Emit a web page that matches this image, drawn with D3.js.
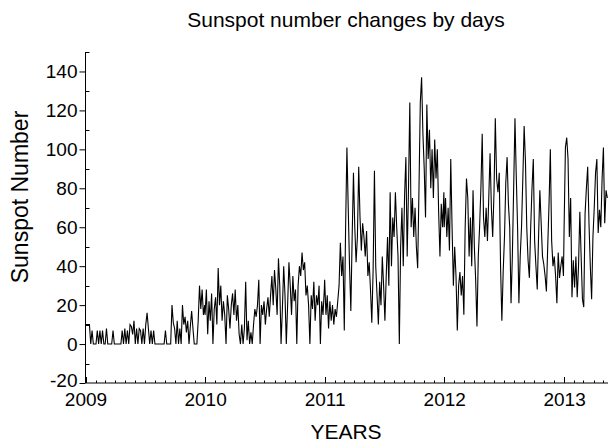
<!DOCTYPE html>
<html><head><meta charset="utf-8">
<script src="https://cdn.jsdelivr.net/npm/d3@7"></script>
<style>
html,body{margin:0;padding:0;background:#fff;}
text{font-family:"Liberation Sans",Arial,sans-serif;fill:#000;}
</style></head>
<body><svg id="c" width="608" height="446"></svg>
<script>
// Daily sunspot numbers, sampled every 4 days from 1 January of each year
const stepDays = 4;
const values2009 = [10,10,10,10,0,7,0,0,0,7,0,7,0,7,0,0,8,0,0,0,0,7,0,0,0,0,0,0,7,0,8,0,7,0,10,9,5,12,0,8,0,8,7,0,8,0,10,16,8,0,7,0,7,0,0,0,0,0,0,0,0,7,0,0,0,0,20,11,8,0,12,0,8,0,20,10,14,6,12,0,9,17,8,0,0,0,12,30,18,28,15,20];
const values2010 = [15,28,5,22,12,26,0,18,24,10,39,20,30,12,22,15,0,25,18,8,20,26,15,28,12,20,5,0,10,0,8,32,2,12,0,6,0,10,18,14,20,33,0,20,15,22,10,18,24,14,25,35,20,38,28,15,44,30,0,18,40,25,0,20,42,30,15,35,22,28,0,30,40,35,47,38,42,25,30,20,0,25,18,32,12,25,20,30,0,22,15,28];
const values2011 = [33,15,25,8,22,12,20,10,18,14,22,30,52,35,45,7,60,101,70,40,17,55,88,60,42,55,91,65,48,62,55,45,58,35,42,28,11,38,89,40,25,10,32,20,45,30,12,35,55,30,78,40,65,55,78,60,45,0,50,70,40,76,96,45,80,124,60,75,55,70,50,39,80,124,137,108,90,65,123,95,110,80,100,75,105,85,100,68,45,72,60,78];
const values2012 = [60,75,55,70,48,95,60,30,50,35,7,30,37,25,35,15,60,85,75,45,65,40,79,50,33,9,45,60,80,108,65,55,70,53,75,98,70,55,78,116,85,78,88,40,12,37,55,83,96,72,60,21,45,80,116,86,60,21,45,60,85,112,94,60,43,34,60,80,95,53,40,28,55,79,62,45,41,35,27,50,72,100,53,40,45,35,21,47,34,40,45,35];
const values2013 = [60,101,106,95,55,75,24,43,29,45,24,40,68,45,23,19,67,80,91,62,40,23,55,70,88,95,57,69,60,85,101,62,79,75];
const seriesYears = [2009, 2010, 2011, 2012, 2013];
const yearTickLabels = ["2009", "2010", "2011", "2012", "2013"];
const yTickValues = [-20, 0, 20, 40, 60, 80, 100, 120, 140];

const yearArrays = [values2009, values2010, values2011, values2012, values2013];
const data = [];
yearArrays.forEach((arr, k) => {
  arr.forEach((v, i) => data.push({date: new Date(Date.UTC(seriesYears[k], 0, 1 + stepDays * i)), value: v}));
});

const svg = d3.select("#c");
const pLeft = 85.5, pRight = 608, pTop = 52, pBottom = 383;

const x = d3.scaleUtc()
  .domain([new Date(Date.UTC(2009, 0, 1)), new Date(Date.UTC(2013, 4, 15))])
  .range([pLeft, pRight]);
const y = d3.scaleLinear().domain([-20, 150]).range([pBottom, pTop]);

// line
const line = d3.line().x(d => x(d.date)).y(d => y(d.value)).curve(d3.curveLinear);
svg.append("path").datum(data)
  .attr("d", line).attr("fill", "none").attr("stroke", "#000").attr("stroke-width", 1.1);

// Y axis: major ticks outward with labels
const yAxis = svg.append("g").attr("transform", `translate(${pLeft},0)`)
  .call(d3.axisLeft(y).tickValues(yTickValues).tickSize(6).tickPadding(2).tickFormat(d => String(d)));
yAxis.select(".domain").attr("d", `M0,${pBottom}V${pTop}`).attr("stroke", "#000");
yAxis.selectAll(".tick line").attr("stroke", "#000");
yAxis.selectAll("text").style("font-size", "19px");
// keep the lowest label just clear of the year labels below it
yAxis.selectAll(".tick").filter(d => d === -20).select("text").attr("y", -3);
// Y minor ticks (inward)
svg.append("g").attr("transform", `translate(${pLeft},0)`)
  .selectAll("line").data(d3.range(-10, 151, 20)).join("line")
  .attr("x1", 0).attr("x2", 4).attr("y1", d => Math.round(y(d)) + 0.5).attr("y2", d => Math.round(y(d)) + 0.5)
  .attr("stroke", "#000");

// X axis: year ticks inward
const yearDates = yearTickLabels.map(s => new Date(Date.UTC(+s, 0, 1)));
const xAxis = svg.append("g").attr("transform", `translate(0,${pBottom})`)
  .call(d3.axisBottom(x).tickValues(yearDates).tickSize(0).tickPadding(10).tickFormat((d, i) => yearTickLabels[i]));
xAxis.select(".domain").attr("d", `M${pLeft},0H${pRight}`).attr("stroke", "#000");
xAxis.selectAll("text").style("font-size", "19px");
// major year ticks (up)
svg.append("g").selectAll("line").data(yearDates).join("line")
  .attr("x1", d => Math.round(x(d)) + 0.5).attr("x2", d => Math.round(x(d)) + 0.5)
  .attr("y1", pBottom).attr("y2", pBottom - 6).attr("stroke", "#000");
// minor monthly ticks (up)
const months = d3.utcMonth.range(new Date(Date.UTC(2009, 0, 1)), new Date(Date.UTC(2013, 4, 15)))
  .filter(d => d.getUTCMonth() !== 0);
svg.append("g").selectAll("line").data(months).join("line")
  .attr("x1", d => Math.round(x(d)) + 0.5).attr("x2", d => Math.round(x(d)) + 0.5)
  .attr("y1", pBottom).attr("y2", pBottom - 2.5).attr("stroke", "#000");

// titles
svg.append("text").attr("x", 346).attr("y", 27).attr("text-anchor", "middle")
  .style("font-size", "21px").text("Sunspot number changes by days");
svg.append("text").attr("x", 346).attr("y", 439).attr("text-anchor", "middle")
  .style("font-size", "21px").text("YEARS");
svg.append("text").attr("transform", "translate(28,197) rotate(-90)").attr("text-anchor", "middle")
  .style("font-size", "23px").text("Sunspot Number");
</script></body></html>
